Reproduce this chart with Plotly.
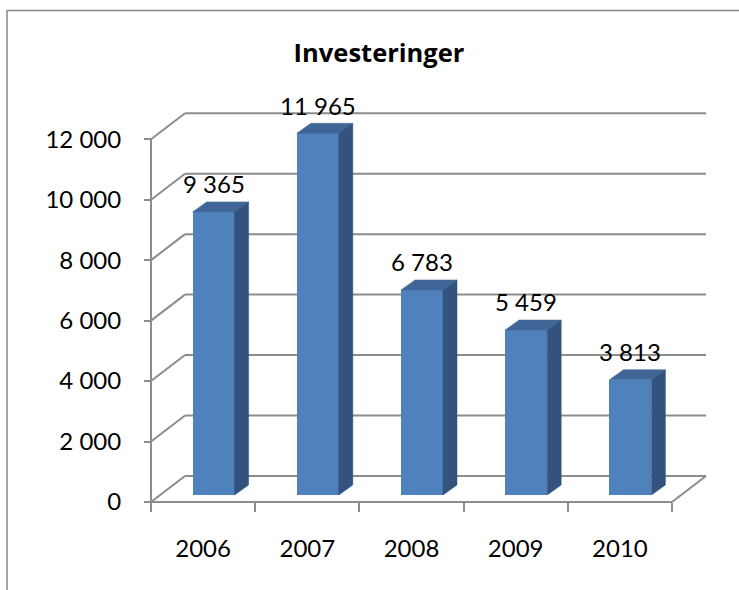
import plotly.graph_objects as go

# ---- data ----
years = ["2006", "2007", "2008", "2009", "2010"]
values = [9365, 11965, 6783, 5459, 3813]
value_labels = ["9 365", "11 965", "6 783", "5 459", "3 813"]
y_ticks = [0, 2000, 4000, 6000, 8000, 10000, 12000]
y_tick_labels = ["0", "2 000", "4 000", "6 000", "8 000", "10 000", "12 000"]
title_text = "Investeringer"

# ---- geometry (pixels -> data units) ----
W, H = 739, 590
PXX = 104.2          # px per category
PXY = 0.03023        # px per value unit
X0_PX, Y0_PX = 151, 502   # pixel of x=-0.5 and value 0
L_PX, R_PX, T_PX, B_PX = 140, 716, 88, 516

def dx(px):
    return px / PXX

def dy(px):
    return px / PXY

n = len(years)
xr = [-0.5 - dx(X0_PX - L_PX), -0.5 + dx(R_PX - X0_PX)]
yr = [-dy(B_PX - Y0_PX), dy(Y0_PX - T_PX)]

WALL_DX, WALL_DY = dx(34), dy(26)      # depth of floor / back wall
BAR_DX, BAR_DY = dx(10.5), dy(7)       # bar front plane offset
DEP_DX, DEP_DY = dx(14), dy(10)        # bar depth
BAR_W = dx(42)

GRID = "#8C8C8C"
FRONT = "#4F81BD"
TOP = "#3F6697"
SIDE = "#33527E"

fig = go.Figure()

# front faces
xs = [i + BAR_DX for i in range(n)]
fig.add_trace(go.Bar(
    x=xs, y=values, base=[BAR_DY] * n, width=BAR_W,
    marker=dict(color=FRONT, line=dict(width=0)),
    hoverinfo="skip", showlegend=False,
))

# top and side faces
tx, ty, sx, sy = [], [], [], []
for i, v in enumerate(values):
    x0 = xs[i] - BAR_W / 2
    x1 = xs[i] + BAR_W / 2
    top = BAR_DY + v
    tx += [x0, x1, x1 + DEP_DX, x0 + DEP_DX, x0, None]
    ty += [top, top, top + DEP_DY, top + DEP_DY, top, None]
    sx += [x1, x1 + DEP_DX, x1 + DEP_DX, x1, x1, None]
    sy += [BAR_DY, BAR_DY + DEP_DY, top + DEP_DY, top, BAR_DY, None]
fig.add_trace(go.Scatter(x=tx, y=ty, mode="lines", fill="toself", fillcolor=TOP,
                         line=dict(width=0.5, color=TOP), hoverinfo="skip", showlegend=False))
fig.add_trace(go.Scatter(x=sx, y=sy, mode="lines", fill="toself", fillcolor=SIDE,
                         line=dict(width=0.5, color=SIDE), hoverinfo="skip", showlegend=False))

# gridlines on side and back wall (below traces)
left, right = -0.5, n - 0.5
for v in y_ticks:
    fig.add_shape(type="line", xref="x", yref="y", layer="below",
                  x0=left, y0=v, x1=left + WALL_DX, y1=v + WALL_DY,
                  line=dict(color=GRID, width=2))
    fig.add_shape(type="line", xref="x", yref="y", layer="below",
                  x0=left + WALL_DX, y0=v + WALL_DY, x1=right + WALL_DX, y1=v + WALL_DY,
                  line=dict(color=GRID, width=2))
# floor right edge
fig.add_shape(type="line", xref="x", yref="y", layer="below",
              x0=right, y0=0, x1=right + WALL_DX, y1=WALL_DY,
              line=dict(color=GRID, width=2))
# front axes lines
fig.add_shape(type="line", xref="x", yref="y", layer="below",
              x0=left, y0=0, x1=right, y1=0, line=dict(color=GRID, width=2))
fig.add_shape(type="line", xref="x", yref="y", layer="below",
              x0=left, y0=0, x1=left, y1=max(y_ticks), line=dict(color=GRID, width=2))

# outer frame
fig.add_shape(type="rect", xref="paper", yref="paper",
              x0=7 / W, y0=-0.2, x1=1.2, y1=1 - 10.5 / H,
              line=dict(color="#898989", width=1.5), fillcolor="rgba(0,0,0,0)")

# value labels
for i, v in enumerate(values):
    fig.add_annotation(x=xs[i], y=BAR_DY + v, text=value_labels[i], showarrow=False,
                       xanchor="center", yanchor="middle", yshift=28,
                       font=dict(family="Lato", size=24, color="black"))

FONT = dict(family="Lato", size=24, color="black")
fig.update_layout(
    width=W, height=H,
    margin=dict(l=0, r=0, t=0, b=0, pad=0, autoexpand=False),
    paper_bgcolor="white", plot_bgcolor="rgba(0,0,0,0)",
    showlegend=False, bargap=0,
    title=dict(text="<b>" + title_text + "</b>", x=379 / W, xanchor="center",
               y=1 - 53 / H, yanchor="middle", xref="paper", yref="paper",
               font=dict(family="Open Sans", size=25.5, color="black")),
    xaxis=dict(domain=[L_PX / W, R_PX / W], range=xr, anchor="free", position=1 - Y0_PX / H,
               tickmode="array", tickvals=[i - 0.5 for i in range(n + 1)],
               ticks="outside", ticklen=9, tickwidth=2, tickcolor=GRID,
               showticklabels=False, showgrid=False, zeroline=False, showline=False,
               fixedrange=True, automargin=False),
    xaxis2=dict(overlaying="x", matches="x", anchor="free", position=1 - Y0_PX / H,
                domain=[L_PX / W, R_PX / W], range=xr,
                tickmode="array", tickvals=list(range(n)), ticktext=years,
                ticks="", showgrid=False, zeroline=False, showline=False,
                tickfont=FONT, ticklabelstandoff=30, side="bottom", automargin=False),
    yaxis=dict(domain=[1 - B_PX / H, 1 - T_PX / H], range=yr, anchor="free", position=X0_PX / W,
               tickmode="array", tickvals=y_ticks, ticktext=y_tick_labels,
               ticks="outside", ticklen=7, tickwidth=2, tickcolor=GRID,
               tickfont=FONT, ticklabelstandoff=18,
               showgrid=False, zeroline=False, showline=False, fixedrange=True, automargin=False),
)
# dummy trace so xaxis2 renders
fig.add_trace(go.Scatter(x=[0], y=[0], xaxis="x2", mode="markers",
                         marker=dict(opacity=0), hoverinfo="skip", showlegend=False))

fig.write_html("out.html", config={"displayModeBar": False, "staticPlot": True},
               post_script="document.body.style.margin='0';document.body.style.overflow='hidden';")
